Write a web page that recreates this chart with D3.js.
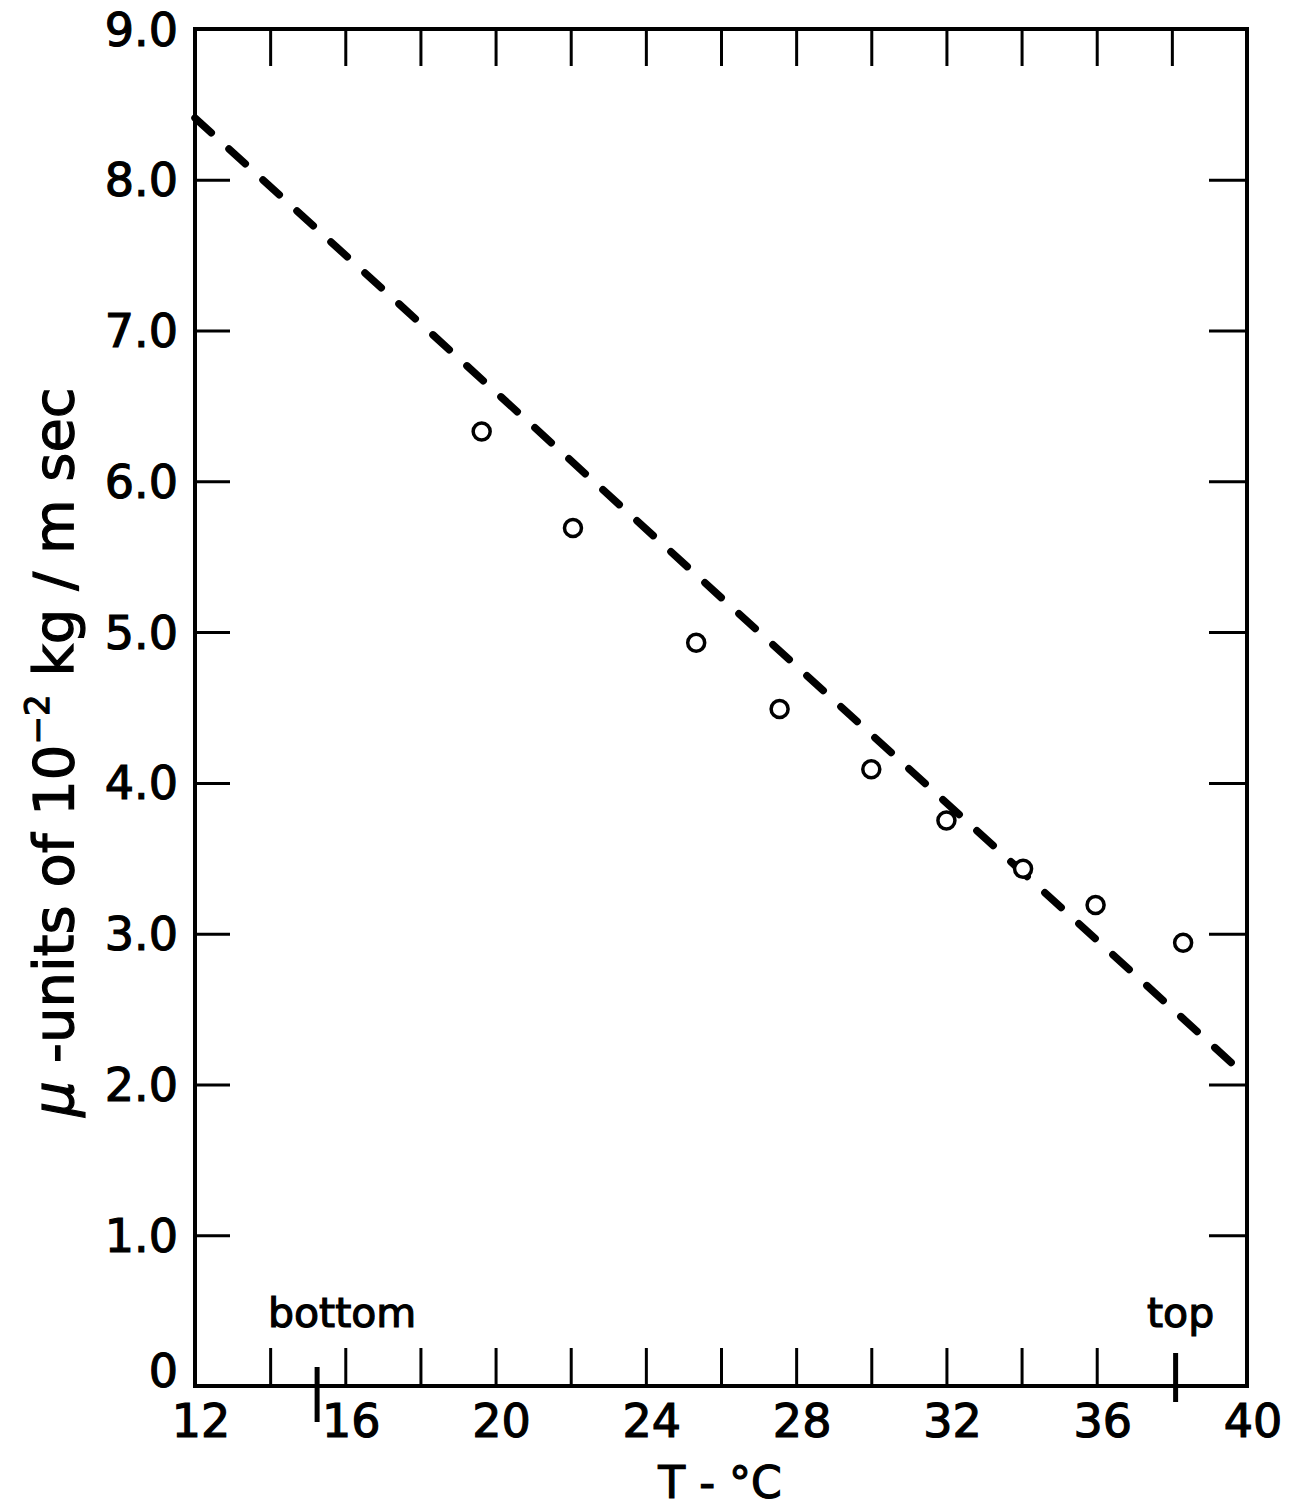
<!DOCTYPE html>
<html lang="en">
<head>
<meta charset="utf-8" />
<title>Viscosity vs temperature</title>
<script src="https://cdn.jsdelivr.net/npm/d3@7"></script>
<style>
  body { margin: 0; background: #fff; }
  svg { display: block; font-family: "DejaVu Sans", sans-serif; }
  svg text { fill: #000; stroke: #000; stroke-width: 1.2px; }
  .tick line { stroke: #000; stroke-width: 3; }
  .tick text { display: none; }
  .domain { display: none; }
</style>
</head>
<body>
<div id="chart"></div>
<script>
// measured points, T in deg C, mu in 10^-2 kg/m sec
var temps = [19.63, 22.06, 25.34, 27.56, 30.0, 32.0, 34.04, 35.97, 38.3];
var mus   = [6.33, 5.69, 4.93, 4.49, 4.09, 3.75, 3.43, 3.19, 2.94];

// dashed fit line end points
var fitT  = [12, 40];
var fitMu = [8.41, 2.05];

var xTicks  = [14, 16, 18, 20, 22, 24, 26, 28, 30, 32, 34, 36];
var xTopTicks = [14, 16, 18, 20, 22, 24, 26, 28, 30, 32, 34, 36, 38];
var xLabels = [12, 16, 20, 24, 28, 32, 36, 40];
var yTicks  = [1, 2, 3, 4, 5, 6, 7, 8];
var yLabels = [0, 1, 2, 3, 4, 5, 6, 7, 8, 9];

// bottom / top positions marked on the T axis
var markT = [15.25, 38.1];
var markText = ["bottom", "top"];

var width = 1296, height = 1507;

var x = d3.scaleLinear().domain([12, 40]).range([195, 1247]);
var y = d3.scaleLinear().domain([0, 9]).range([1386, 29]);

var svg = d3.select("#chart").append("svg")
    .attr("width", width)
    .attr("height", height);

// ticks, pointing inward
svg.append("g").attr("transform", "translate(0," + y(0) + ")")
   .call(d3.axisBottom(x).tickValues(xTicks).tickSize(-38).tickFormat(""));
svg.append("g").attr("transform", "translate(0," + y(9) + ")")
   .call(d3.axisTop(x).tickValues(xTopTicks).tickSize(-37).tickFormat(""));
svg.append("g").attr("transform", "translate(" + x(12) + ",0)")
   .call(d3.axisLeft(y).tickValues(yTicks).tickSize(-35).tickFormat(""));
svg.append("g").attr("transform", "translate(" + x(40) + ",0)")
   .call(d3.axisRight(y).tickValues(yTicks).tickSize(-38).tickFormat(""));

// frame
svg.append("rect")
   .attr("x", x(12)).attr("y", y(9))
   .attr("width", x(40) - x(12)).attr("height", y(0) - y(9))
   .attr("fill", "none").attr("stroke", "#000").attr("stroke-width", 4);

// tick labels
svg.selectAll(".xlab").data(xLabels).enter().append("text")
   .attr("class", "xlab")
   .attr("x", function(d) { return x(d) + 6; })
   .attr("y", 1437)
   .attr("text-anchor", "middle")
   .attr("font-size", 46)
   .text(function(d) { return d; });

svg.selectAll(".ylab").data(yLabels).enter().append("text")
   .attr("class", "ylab")
   .attr("x", 178)
   .attr("y", function(d) { return d === 0 ? y(d) - 16 : y(d); })
   .attr("dy", "0.36em")
   .attr("text-anchor", "end")
   .attr("font-size", 46)
   .text(function(d) { return d === 0 ? "0" : d.toFixed(1); });

// bottom / top markers
svg.selectAll(".mark").data(markT).enter().append("line")
   .attr("x1", function(d) { return x(d); })
   .attr("x2", function(d) { return x(d); })
   .attr("y1", function(d, i) { return y(0) - (i === 0 ? 19 : 33); })
   .attr("y2", function(d, i) { return y(0) + (i === 0 ? 36 : 16); })
   .attr("stroke", "#000").attr("stroke-width", 5);

svg.append("text").attr("x", 268).attr("y", 1327)
   .attr("font-size", 41).text(markText[0]);
svg.append("text").attr("x", 1147).attr("y", 1327)
   .attr("font-size", 41).text(markText[1]);

// dashed line
var line = d3.line()
    .x(function(d) { return x(d[0]); })
    .y(function(d) { return y(d[1]); });

svg.append("path")
   .datum(d3.zip(fitT, fitMu))
   .attr("d", line)
   .attr("fill", "none")
   .attr("stroke", "#000")
   .attr("stroke-width", 7.5)
   .attr("stroke-linecap", "round")
   .attr("stroke-dasharray", "22,24");

// data points
svg.selectAll(".pt").data(d3.zip(temps, mus)).enter().append("circle")
   .attr("class", "pt")
   .attr("cx", function(d) { return x(d[0]); })
   .attr("cy", function(d) { return y(d[1]); })
   .attr("r", 8.5)
   .attr("fill", "#fff")
   .attr("stroke", "#000")
   .attr("stroke-width", 3.5);

// axis titles
svg.append("text")
   .attr("x", 720).attr("y", 1498)
   .attr("text-anchor", "middle")
   .attr("font-size", 44)
   .text("T - °C");

var yt = svg.append("text")
   .attr("transform", "translate(73,752) rotate(-90)")
   .attr("text-anchor", "middle")
   .attr("font-size", 56);
yt.append("tspan").attr("font-style", "italic").text("μ");
yt.append("tspan").text(" -units of 10");
yt.append("tspan").attr("font-size", 34).attr("dy", -24).text("−2");
yt.append("tspan").attr("dy", 24).text(" kg / m sec");
</script>
</body>
</html>
